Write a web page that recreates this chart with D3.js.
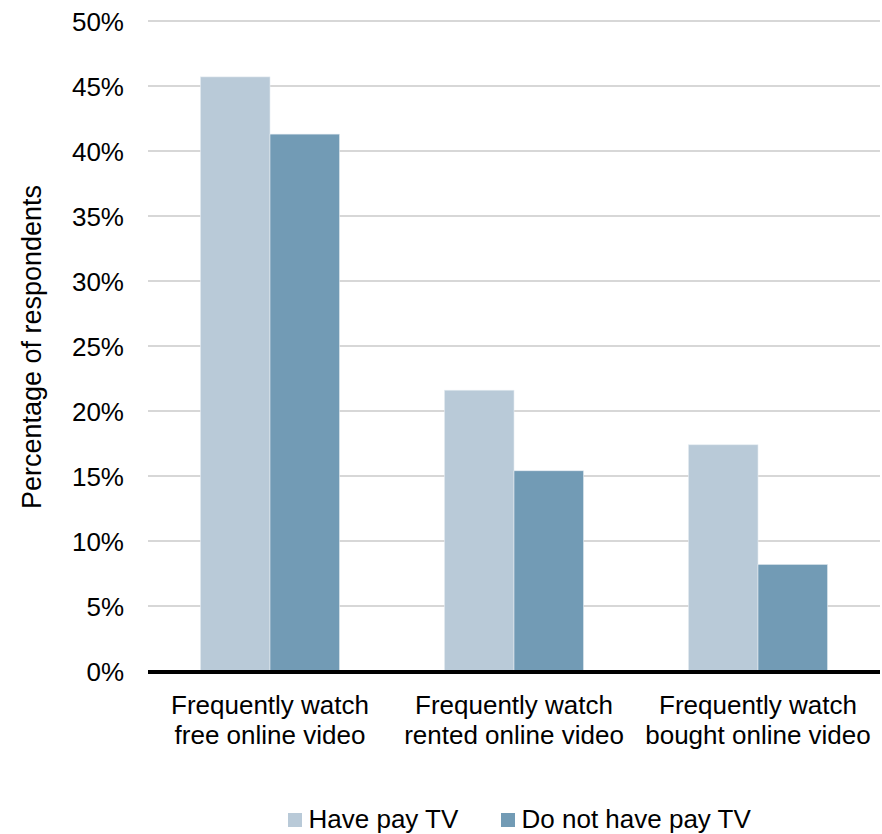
<!DOCTYPE html>
<html><head><meta charset="utf-8">
<script src="https://cdn.jsdelivr.net/npm/d3@7"></script>
<style>body{margin:0;background:#fff}svg{display:block;font-family:"Liberation Sans",Arial,sans-serif}</style>
</head><body><svg id="c" width="882" height="834"></svg>
<script>
const categories = [["Frequently watch","free online video"],["Frequently watch","rented online video"],["Frequently watch","bought online video"]];
const seriesNames = ["Have pay TV","Do not have pay TV"];
const havePayTV = [45.7, 21.6, 17.4];
const noPayTV = [41.3, 15.4, 8.2];
const yTicks = [0,5,10,15,20,25,30,35,40,45,50];
const colors = ["#B9CAD8","#729BB5"];

(function(){
const svg = d3.select("#c");
const FS = 26;
const pL = 148, pR = 880, pT = 21, pB = 671;
const y = d3.scaleLinear().domain([0,50]).range([pB, pT]);
const x0 = d3.scaleBand().domain(d3.range(categories.length)).range([pL,pR]).paddingInner(0.43).paddingOuter(0.215);
const x1 = d3.scaleBand().domain([0,1]).range([0, x0.bandwidth()]);

// gridlines
svg.append("g").selectAll("line").data(yTicks.filter(d=>d>0)).join("line")
  .attr("x1", pL).attr("x2", pR).attr("y1", d=>y(d)).attr("y2", d=>y(d))
  .attr("stroke","#CACACA").attr("stroke-width",1.5);

// y axis labels
const yAxis = d3.axisLeft(y).tickValues(yTicks).tickFormat(d=>d+"%").tickSize(0).tickPadding(0);
const ga = svg.append("g").attr("transform",`translate(124,0)`).call(yAxis);
ga.select(".domain").remove();
ga.selectAll("text").attr("font-size",FS).attr("fill","#000").attr("dy","0.37em")
  .attr("font-family","Liberation Sans, Arial, sans-serif");

// bars
const series = [havePayTV, noPayTV];
series.forEach((vals, si) => {
  svg.append("g").selectAll("rect").data(vals).join("rect")
    .attr("x", (d,i)=>x0(i)+x1(si)).attr("width", x1.bandwidth())
    .attr("y", d=>y(d)).attr("height", d=>y(0)-y(d))
    .attr("fill", colors[si]).attr("stroke","#E4EBF1").attr("stroke-width",0.6);
});

// baseline
svg.append("line").attr("x1",pL).attr("x2",pR).attr("y1",y(0)+1).attr("y2",y(0)+1)
  .attr("stroke","#000").attr("stroke-width",4);

// category labels
const cl = svg.append("g").selectAll("text").data(categories).join("text")
  .attr("text-anchor","middle").attr("font-size",FS).attr("fill","#000")
  .attr("x",(d,i)=>x0(i)+x0.bandwidth()/2).attr("y",713.5);
cl.selectAll("tspan").data(d=>d).join("tspan")
  .attr("x", function(){return this.parentNode.getAttribute("x");})
  .attr("dy",(d,i)=>i===0?0:30).text(d=>d);

// y title
svg.append("text").attr("transform","translate(40.5,347) rotate(-90)")
  .attr("text-anchor","middle").attr("font-size",27).attr("fill","#000")
  .text("Percentage of respondents");

// legend
const legendX = [288, 501];
const lg = svg.append("g").selectAll("g").data(seriesNames).join("g")
  .attr("transform",(d,i)=>`translate(${legendX[i]},813)`);
lg.append("rect").attr("width",14).attr("height",14).attr("fill",(d,i)=>colors[i]);
lg.append("text").attr("x",20.5).attr("y",14.5).attr("font-size",FS).attr("fill","#000").text(d=>d);
})();
</script></body></html>
